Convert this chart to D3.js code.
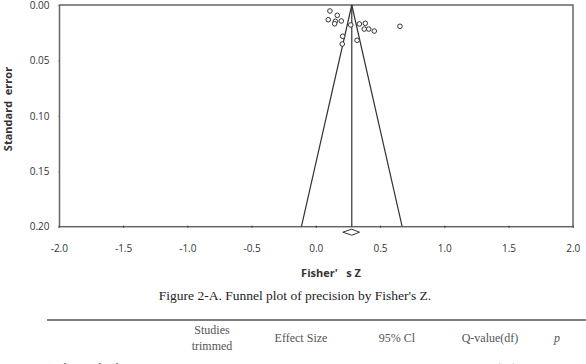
<!DOCTYPE html>
<html>
<head>
<meta charset="utf-8">
<script src="https://cdn.jsdelivr.net/npm/d3@7"></script>
<style>
  body { margin: 0; background: #fff; }
  svg { display: block; }
  .tick text { font-family: "Open Sans", sans-serif; font-size: 10px; fill: #333; }
  .lbl { font-family: "Open Sans", sans-serif; font-weight: bold; font-size: 11px; fill: #333; }
  .serif { font-family: "Liberation Serif", "DejaVu Serif", serif; fill: #222; }
</style>
</head>
<body>
<svg id="chart" width="586" height="364"></svg>
<script>
// study points: Fisher's Z and standard error
const fisherZ = [0.110, 0.167, 0.097, 0.152, 0.147, 0.198, 0.272, 0.339, 0.385, 0.377, 0.412, 0.455, 0.655, 0.209, 0.206, 0.321];
const stdErr  = [0.0054, 0.0093, 0.0133, 0.0147, 0.0169, 0.0144, 0.0180, 0.0171, 0.0165, 0.0217, 0.0217, 0.0235, 0.0192, 0.0282, 0.0352, 0.0318];

// summary effect
const summaryZ = 0.28;
const ciLow = 0.21, ciHigh = 0.34;

const xTicks = [-2.0, -1.5, -1.0, -0.5, 0.0, 0.5, 1.0, 1.5, 2.0];
const yTicks = [0.00, 0.05, 0.10, 0.15, 0.20];

// table
const tableHeaders = ["Studies\ntrimmed", "Effect Size", "95% Cl", "Q-value(df)", "p"];
const tableRow = ["Observed values", "", ".28", "0.21-0.34", "1264.8(15)", ""];

const svg = d3.select("#chart");
const plotL = 59.5, plotR = 573, plotT = 5, plotB = 226.7;

const x = d3.scaleLinear().domain([-2, 2]).range([plotL - 0.7, plotR - 0.2]);
const y = d3.scaleLinear().domain([0, 0.2]).range([plotT, plotB]);

// frame
svg.append("rect")
  .attr("x", plotL).attr("y", plotT)
  .attr("width", plotR - plotL).attr("height", plotB - plotT)
  .attr("fill", "none").attr("stroke", "#666").attr("stroke-width", 1.5);

// x axis (plain hyphen for negatives, like the original)
const xAxis = svg.append("g")
  .attr("transform", `translate(0,${plotB})`)
  .call(d3.axisBottom(x).tickValues(xTicks).tickFormat(d => d.toFixed(1)).tickSizeInner(2).tickSizeOuter(0).tickPadding(16));
xAxis.select(".domain").remove();
xAxis.selectAll(".tick line").attr("stroke", "#444").attr("stroke-width", 1.3).attr("transform", "translate(0,-1)");

// y axis
const yAxis = svg.append("g")
  .attr("transform", `translate(${plotL},0)`)
  .call(d3.axisLeft(y).tickValues(yTicks).tickFormat(d3.format(".2f")).tickSizeInner(1).tickSizeOuter(0).tickPadding(9));
yAxis.select(".domain").remove();
yAxis.selectAll(".tick line").attr("stroke", "#666");

// funnel
const half = 1.96 * 0.2;
svg.append("path")
  .attr("d", d3.line()([[x(summaryZ - half), y(0.2)], [x(summaryZ), y(0)], [x(summaryZ + half), y(0.2)]]))
  .attr("fill", "none").attr("stroke", "#333").attr("stroke-width", 1.2);
svg.append("line")
  .attr("x1", x(summaryZ)).attr("x2", x(summaryZ))
  .attr("y1", y(0)).attr("y2", y(0.2))
  .attr("stroke", "#333").attr("stroke-width", 1.2);

// points
svg.append("g").selectAll("circle")
  .data(fisherZ.map((z, i) => [z, stdErr[i]]))
  .join("circle")
  .attr("cx", d => x(d[0])).attr("cy", d => y(d[1]))
  .attr("r", 2.3)
  .attr("fill", "#fff").attr("stroke", "#333").attr("stroke-width", 1);

// diamond for summary
const dy = plotB + 5.5;
svg.append("path")
  .attr("d", d3.line()([[x(ciLow), dy], [x(summaryZ), dy - 3], [x(ciHigh), dy], [x(summaryZ), dy + 3]]) + "Z")
  .attr("fill", "#fff").attr("stroke", "#333").attr("stroke-width", 1);

// axis titles
svg.append("text").attr("class", "lbl")
  .attr("transform", "translate(12,109) rotate(-90)")
  .attr("text-anchor", "middle")
  .attr("xml:space", "preserve")
  .text("Standard  error");

svg.append("text").attr("class", "lbl")
  .attr("x", 331).attr("y", 277)
  .attr("text-anchor", "middle")
  .attr("xml:space", "preserve")
  .text("Fisher'   s Z");

// caption
svg.append("text").attr("class", "serif")
  .attr("x", 295).attr("y", 300)
  .attr("text-anchor", "middle")
  .style("font-size", "13.5px")
  .text("Figure 2-A. Funnel plot of precision by Fisher's Z.");

// table
svg.append("line")
  .attr("x1", 47).attr("x2", 586).attr("y1", 320).attr("y2", 320)
  .attr("stroke", "#555").attr("stroke-width", 1.5);

const colX = [95, 212, 301, 397, 490, 557];
const head = svg.append("g").attr("class", "serif").style("font-size", "12px");
tableHeaders.forEach((h, i) => {
  const lines = h.split("\n");
  const t = head.append("text")
    .attr("x", colX[i + 1])
    .attr("text-anchor", "middle")
    .style("fill", "#555")
    .style("font-style", h === "p" ? "italic" : "normal");
  lines.forEach((s, j) => {
    t.append("tspan")
      .attr("x", colX[i + 1])
      .attr("y", lines.length > 1 ? 334 + j * 16 : 342)
      .text(s);
  });
});

const row = svg.append("g").attr("class", "serif").style("font-size", "12px");
tableRow.forEach((s, i) => {
  row.append("text")
    .attr("x", colX[i]).attr("y", 372)
    .attr("text-anchor", "middle")
    .style("fill", "#555")
    .text(s);
});
</script>
</body>
</html>
